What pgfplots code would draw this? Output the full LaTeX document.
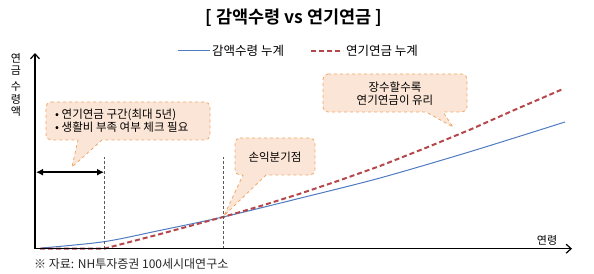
\documentclass[border=0pt]{standalone}
\usepackage{pgfplots}
\pgfplotsset{compat=1.18}
\usepackage{fontspec}
\setmainfont{Noto Sans CJK KR}[BoldFont={Noto Sans CJK KR Bold}]
\usetikzlibrary{arrows.meta}
\definecolor{blueline}{HTML}{4F7BC0}
\definecolor{redline}{HTML}{B5474B}
\definecolor{boxfill}{HTML}{FBE5D6}
\definecolor{boxedge}{HTML}{F0A868}
\begin{document}
\begin{tikzpicture}
\begin{axis}[
  width=594pt, height=273pt, scale only axis,
  xmin=0, xmax=594, ymin=-24.3, ymax=248.7,
  axis lines=none, clip=false,
  legend style={at={(axis cs:177,197.7)}, anchor=west, draw=none, fill=none,
    font=\fontsize{12.5pt}{14pt}\selectfont, legend columns=2,
    /tikz/every even column/.append style={column sep=24pt},
    inner sep=0pt},
  legend image code/.code={\draw[#1] (0pt,0pt) -- (32pt,0pt);},
]
% bounding frame
\path (axis cs:0,-24.3) rectangle (axis cs:594,248.7);

\addplot[blueline, line width=1pt, smooth] coordinates {
 (41.7,0.7) (104,7) (160,18.3) (223,31.7) (300,50.5) (380,70.7) (470,97) (565,126.7)};
\addlegendentry{감액수령 누계}
\addplot[redline, line width=2pt, dash pattern=on 5pt off 3pt] coordinates {
 (40,0) (104,0) (160,14.6) (223,31.7) (260,42.5) (300,55) (340,68.5) (380,82.7) (425,100.5) (470,119) (515,139) (563,159.7)};
\addlegendentry{연기연금 누계}

% dashed verticals
\draw[gray!70!black, densely dashed, line width=0.7pt] (axis cs:104,0) -- (axis cs:104,91.7);
\draw[gray!70!black, densely dashed, line width=0.7pt] (axis cs:223,0) -- (axis cs:223,91.7);

% axes
\draw[line width=1.2pt, -{Straight Barb[length=5pt,width=9pt]}] (axis cs:35,0) -- (axis cs:572,0);
\draw[line width=1.2pt, -{Straight Barb[length=5pt,width=9pt]}] (axis cs:35,0) -- (axis cs:35,195.7);

% double arrow
\draw[line width=1.5pt, {Latex[length=7pt,width=7pt]}-{Latex[length=7pt,width=7pt]}] (axis cs:36,76.5) -- (axis cs:104,76.5);

% callout 1
\draw[boxedge, fill=boxfill, dashed, line width=0.8pt]
  [rounded corners=5pt] (axis cs:46,146.7) -- (axis cs:210,146.7) -- (axis cs:210,108.7)
  [sharp corners] -- (axis cs:102,108.7) -- (axis cs:72,81.7) -- (axis cs:78,108.7)
  [rounded corners=5pt] -- (axis cs:46,108.7) -- cycle;
\node[anchor=west, font=\fontsize{11.5pt}{14pt}\selectfont, align=left, inner sep=0pt] at (axis cs:55,128.2)
  {• 연기연금 구간(최대 5년)\\[-1pt]• 생활비 부족 여부 체크 필요};

% callout 2
\draw[boxedge, fill=boxfill, dashed, line width=0.8pt]
  [rounded corners=5pt] (axis cs:235,110.7) -- (axis cs:315,110.7) -- (axis cs:315,73.7)
  [sharp corners] -- (axis cs:266,73.7) -- (axis cs:224,33) -- (axis cs:243,73.7)
  [rounded corners=5pt] -- (axis cs:235,73.7) -- cycle;
\node[font=\fontsize{11.5pt}{14pt}\selectfont, inner sep=0pt] at (axis cs:275,91.7) {손익분기점};

% callout 3
\draw[boxedge, fill=boxfill, dashed, line width=0.8pt]
  [rounded corners=5pt] (axis cs:323,174.7) -- (axis cs:467,174.7) -- (axis cs:467,136.7)
  [sharp corners] -- (axis cs:443,136.7) -- (axis cs:453,121.7) -- (axis cs:426,136.7)
  [rounded corners=5pt] -- (axis cs:323,136.7) -- cycle;
\node[font=\fontsize{11.5pt}{14pt}\selectfont, align=center, inner sep=0pt] at (axis cs:395,155.2)
  {장수할수록\\[-1pt]연기연금이 유리};

% title
\node[font=\bfseries\fontsize{17.5pt}{20pt}\selectfont] at (axis cs:294,230.7) {[ 감액수령 vs 연기연금 ]};

% axis labels
\node[font=\fontsize{11pt}{12pt}\selectfont, inner sep=0pt] at (axis cs:16,190.7) {연};
\node[font=\fontsize{11pt}{12pt}\selectfont, inner sep=0pt] at (axis cs:16,177.7) {금};
\node[font=\fontsize{11pt}{12pt}\selectfont, inner sep=0pt] at (axis cs:16,161.7) {수};
\node[font=\fontsize{11pt}{12pt}\selectfont, inner sep=0pt] at (axis cs:16,149.7) {령};
\node[font=\fontsize{11pt}{12pt}\selectfont, inner sep=0pt] at (axis cs:16,137.7) {액};
\node[font=\fontsize{11pt}{12pt}\selectfont] at (axis cs:547,8.7) {연령};

% source
\node[anchor=west, font=\fontsize{12pt}{13pt}\selectfont, text=black!85, inner sep=0pt] at (axis cs:34,-15.3)
  {※ 자료: NH투자증권 100세시대연구소};
\end{axis}
\end{tikzpicture}
\end{document}
